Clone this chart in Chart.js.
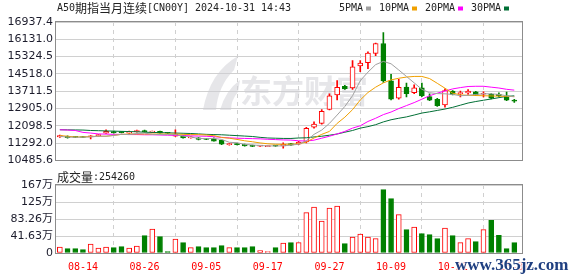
<!DOCTYPE html>
<html lang="zh-CN">
<head>
<meta charset="UTF-8">
<title>A50期指当月连续</title>
<script src="https://cdn.jsdelivr.net/npm/chart.js"></script>
<style>
  body { margin: 0; background: #fff; }
  #wrap { position: relative; width: 578px; height: 276px; }
  .pane { position: absolute; left: 0; width: 578px; }
</style>
</head>
<body>

<div id="wrap">
  <div class="pane" style="top:0;height:170px"><canvas id="kChart"></canvas></div>
  <div class="pane" style="top:170px;height:106px"><canvas id="volChart"></canvas></div>
</div>

<script>
    // trading days, 08-09 .. 10-31
    var dates = [
        '08-09', '08-12', '08-13', '08-14', '08-15', '08-16', '08-19', '08-20', '08-21', '08-22',
        '08-23', '08-26', '08-27', '08-28', '08-29', '08-30', '09-02', '09-03', '09-04', '09-05',
        '09-06', '09-09', '09-10', '09-11', '09-12', '09-13', '09-16', '09-17', '09-18', '09-19',
        '09-20', '09-23', '09-24', '09-25', '09-26', '09-27', '09-30', '10-01', '10-02', '10-03',
        '10-04', '10-07', '10-08', '10-09', '10-10', '10-11', '10-14', '10-15', '10-16', '10-17',
        '10-18', '10-21', '10-22', '10-23', '10-24', '10-25', '10-28', '10-29', '10-30', '10-31'
    ];
    var dateLabelIdx = [3, 11, 19, 27, 35, 43, 51, 59];

    var opens = [
        11580, 11612, 11580, 11590, 11580, 11640, 11760, 11830, 11810, 11760,
        11830, 11880, 11800, 11837, 11760, 11612, 11643, 11535, 11535, 11490,
        11490, 11418, 11220, 11260, 11238, 11180, 11150, 11130, 11170, 11161,
        11265, 11238, 11342, 12031, 12214, 12860, 13535, 13941, 13866, 14887,
        15036, 15473, 15937, 14193, 13382, 13909, 13639, 13864, 13459, 13337,
        13067, 13716, 13600, 13626, 13684, 13570, 13563, 13560, 13490, 13300
    ];
    var highs = [
        11670, 11630, 11600, 11610, 11640, 11700, 11914, 11850, 11830, 11850,
        11900, 11900, 11850, 11850, 11780, 11914, 11660, 11600, 11550, 11510,
        11535, 11430, 11280, 11275, 11250, 11200, 11190, 11170, 11185, 11300,
        11280, 11380, 12031, 12287, 12860, 13589, 14211, 13990, 15139, 15139,
        15545, 15960, 16446, 14495, 14270, 14090, 14013, 14090, 13594, 13380,
        13819, 13740, 13716, 13788, 13700, 13684, 13600, 13639, 13670, 13337
    ];
    var lows = [
        11560, 11520, 11540, 11540, 11490, 11620, 11740, 11760, 11770, 11740,
        11800, 11790, 11780, 11750, 11740, 11600, 11520, 11520, 11440, 11450,
        11380, 11220, 11200, 11210, 11150, 11130, 11140, 11120, 11140, 11050,
        11180, 11220, 11300, 11990, 12180, 12840, 13300, 13800, 13800, 14617,
        14765, 15365, 14121, 13300, 13340, 13445, 13600, 13460, 13270, 13000,
        12963, 13540, 13445, 13563, 13520, 13445, 13350, 13445, 13270, 13189
    ];
    var closes = [
        11640, 11540, 11560, 11555, 11620, 11690, 11837, 11770, 11780, 11800,
        11870, 11810, 11837, 11760, 11750, 11715, 11535, 11580, 11463, 11460,
        11387, 11238, 11265, 11220, 11161, 11140, 11170, 11160, 11150, 11238,
        11193, 11341, 11986, 12184, 12770, 13490, 13896, 13833, 14842, 15022,
        15486, 15937, 14193, 13337, 13896, 13594, 13864, 13490, 13292, 13040,
        13743, 13563, 13630, 13716, 13535, 13590, 13382, 13500, 13292, 13250
    ];
    var volumes = [
        147000, 106000, 106000, 82000, 220000, 122000, 147000, 130000, 155000, 122000,
        171000, 424000, 588000, 400000, 33000, 343000, 253000, 130000, 155000, 130000,
        130000, 180000, 130000, 130000, 130000, 155000, 57000, 33000, 130000, 245000,
        253000, 253000, 987000, 1126000, 783000, 1100000, 1150000, 228000, 392000, 465000,
        392000, 351000, 1550000, 1330000, 938000, 571000, 636000, 473000, 449000, 351000,
        612000, 424000, 253000, 351000, 277000, 571000, 800000, 432000, 106000, 254260
    ];

    var ma5 = [
        11612, 11567, 11567, 11567, 11580, 11612, 11612, 11650, 11700, 11688,
        11740, 11760, 11700, 11688, 11688, 11688, 11620, 11580, 11508, 11508,
        11508, 11463, 11330, 11310, 11230, 11206, 11180, 11161, 11161, 11161,
        11200, 11238, 11400, 11700, 11900, 12211, 12600, 13000, 13500, 14200,
        14600, 14950, 15100, 14990, 14700, 14400, 14100, 13800, 13640, 13600,
        13590, 13560, 13500, 13520, 13560, 13590, 13590, 13560, 13500, 13450
    ];
    var ma10 = [
        11643, 11612, 11580, 11580, 11600, 11612, 11612, 11650, 11700, 11715,
        11715, 11715, 11715, 11715, 11715, 11710, 11700, 11688, 11688, 11670,
        11643, 11553, 11520, 11463, 11400, 11355, 11300, 11260, 11238, 11238,
        11240, 11260, 11341, 11530, 11700, 11837, 12211, 12500, 12850, 13300,
        13650, 13900, 14100, 14240, 14315, 14370, 14400, 14400, 14300, 14080,
        13850, 13620, 13540, 13520, 13510, 13500, 13490, 13480, 13470, 13460
    ];
    var ma20 = [
        11914, 11900, 11880, 11792, 11760, 11720, 11710, 11700, 11700, 11690,
        11690, 11680, 11680, 11670, 11660, 11650, 11643, 11630, 11620, 11612,
        11590, 11560, 11535, 11520, 11510, 11500, 11490, 11470, 11455, 11440,
        11432, 11400, 11387, 11430, 11520, 11612, 11720, 11837, 11990, 12100,
        12300, 12450, 12620, 12740, 12900, 13040, 13180, 13337, 13500, 13620,
        13720, 13819, 13880, 13930, 13941, 13941, 13900, 13860, 13800, 13761
    ];
    var ma30 = [
        11914, 11910, 11905, 11900, 11880, 11870, 11860, 11850, 11840, 11830,
        11820, 11800, 11790, 11780, 11770, 11760, 11750, 11740, 11720, 11700,
        11690, 11680, 11660, 11640, 11620, 11600, 11560, 11530, 11520, 11510,
        11508, 11530, 11540, 11580, 11612, 11660, 11715, 11800, 11880, 11990,
        12060, 12150, 12280, 12380, 12450, 12513, 12600, 12693, 12750, 12815,
        12880, 12960, 13060, 13160, 13230, 13290, 13350, 13410, 13470, 13495
    ];

    var priceTicks = [10485.6, 11292.0, 12098.5, 12905.0, 13711.5, 14518.0, 15324.5, 16131.0, 16937.4];
    var volTicks = [0, 416300, 832600, 1248900, 1665200];

    var titleText = 'A50期指当月连续[CN00Y] 2024-10-31 14:43';
    var maNames = ['5PMA', '10PMA', '20PMA', '30PMA'];
    var maColors = ['#a0a0a0', '#f0a000', '#ff00ff', '#006f35'];

    var upColor = '#ff0000';
    var downColor = '#008000';
    var gridColor = '#d0d0d0';
    var frameColor = '#8c8c8c';
    var markColor = 'rgba(205,205,212,0.5)';

    var idx = dates.map(function (d, i) { return i; });
    function isUp(i) { return closes[i] >= opens[i]; }
    function candleColor(i) { return isUp(i) ? upColor : downColor; }

    // SimSun-like mixed text: ascii half width, CJK full width
    function drawMixed(ctx, text, x, y, color) {
        ctx.save();
        ctx.fillStyle = color;
        ctx.textBaseline = 'middle';
        ctx.textAlign = 'left';
        for (var k = 0; k < text.length; k++) {
            var ch = text[k];
            var wide = ch.charCodeAt(0) > 255;
            ctx.font = wide ? '12px "Noto Sans CJK SC"' : '10px "DejaVu Sans Mono"';
            ctx.fillText(ch, x, y);
            x += wide ? 12 : 6;
        }
        ctx.restore();
        return x;
    }

    function xScaleOpts() {
        return {
            type: 'linear',
            min: -0.5,
            max: 60,
            offset: false,
            afterBuildTicks: function (s) {
                s.ticks = dateLabelIdx.map(function (v) { return { value: v }; });
            },
            afterFit: function (s) { s.height = 0; },
            ticks: { display: false },
            grid: { color: gridColor, drawTicks: false },
            border: { display: false, dash: [4, 4] }
        };
    }

    var framePlugin = {
        id: 'frame',
        afterDraw: function (chart) {
            var a = chart.chartArea, c = chart.ctx;
            c.save();
            c.strokeStyle = frameColor;
            c.lineWidth = 1;
            c.strokeRect(Math.round(a.left) - 0.5, Math.round(a.top) - 0.5,
                Math.round(a.right - a.left) + 1, Math.round(a.bottom - a.top) + 1);
            c.restore();
        }
    };

    var kHeader = {
        id: 'kHeader',
        beforeDatasetsDraw: function (chart) {
            var c = chart.ctx;
            c.save();
            c.fillStyle = markColor;
            // logo swoosh
            c.beginPath();
            c.moveTo(203, 110);
            c.quadraticCurveTo(210, 72, 238, 56);
            c.lineTo(234, 70);
            c.quadraticCurveTo(218, 86, 216, 110);
            c.closePath();
            c.fill();
            c.beginPath();
            c.moveTo(220, 110);
            c.quadraticCurveTo(226, 90, 240, 80);
            c.lineTo(238, 92);
            c.quadraticCurveTo(231, 100, 231, 110);
            c.closePath();
            c.fill();
            c.font = 'bold 32px "Noto Sans CJK SC"';
            c.textBaseline = 'middle';
            c.fillText('东方财富', 240, 91);
            c.restore();
        },
        afterDraw: function (chart) {
            var c = chart.ctx;
            drawMixed(c, titleText, 57, 8, '#222');
            var x = 339;
            for (var k = 0; k < maNames.length; k++) {
                x = drawMixed(c, maNames[k], x, 8, '#222');
                c.fillStyle = maColors[k];
                c.fillRect(x + 3, 6.5, 5, 4);
                x += 16;
            }
        }
    };

    var kChart = new Chart(document.getElementById('kChart'), {
        type: 'bar',
        data: {
            datasets: [
                {
                    type: 'line', data: idx.map(function (i) { return { x: i, y: ma5[i] }; }),
                    borderColor: maColors[0], borderWidth: 1, pointRadius: 0, order: 0
                },
                {
                    type: 'line', data: idx.map(function (i) { return { x: i, y: ma10[i] }; }),
                    borderColor: maColors[1], borderWidth: 1, pointRadius: 0, order: 0
                },
                {
                    type: 'line', data: idx.map(function (i) { return { x: i, y: ma20[i] }; }),
                    borderColor: maColors[2], borderWidth: 1, pointRadius: 0, order: 0
                },
                {
                    type: 'line', data: idx.map(function (i) { return { x: i, y: ma30[i] }; }),
                    borderColor: maColors[3], borderWidth: 1, pointRadius: 0, order: 0
                },
                {
                    // candle bodies
                    data: idx.map(function (i) { return { x: i, y: [opens[i], closes[i]] }; }),
                    backgroundColor: idx.map(function (i) { return isUp(i) ? '#ffffff' : downColor; }),
                    borderColor: idx.map(candleColor),
                    borderWidth: 1,
                    borderSkipped: false,
                    minBarLength: 1,
                    barThickness: 5,
                    grouped: false,
                    order: 1
                },
                {
                    // wicks
                    data: idx.map(function (i) { return { x: i, y: [lows[i], highs[i]] }; }),
                    backgroundColor: idx.map(candleColor),
                    borderWidth: 0,
                    barThickness: 1,
                    grouped: false,
                    order: 2
                }
            ]
        },
        options: {
            responsive: true,
            maintainAspectRatio: false,
            animation: false,
            layout: { padding: { top: 22, right: 56, bottom: 5, left: 0 } },
            plugins: { legend: { display: false }, tooltip: { enabled: false } },
            scales: {
                x: xScaleOpts(),
                y: {
                    min: priceTicks[0],
                    max: priceTicks[priceTicks.length - 1],
                    afterBuildTicks: function (s) {
                        s.ticks = priceTicks.map(function (v) { return { value: v }; });
                    },
                    afterFit: function (s) { s.width = 56; },
                    ticks: {
                        padding: 3,
                        color: '#1c1c2c',
                        font: { family: 'DejaVu Sans', size: 11 },
                        callback: function (v) { return Number(v).toFixed(1); }
                    },
                    grid: { color: gridColor, drawTicks: false },
                    border: { display: false }
                }
            }
        },
        plugins: [kHeader, framePlugin]
    });

    function volLabel(v) {
        if (v === 0) return '0';
        var w = v / 10000;
        return (w >= 100 ? Math.round(w) : w.toFixed(2)) + '万';
    }

    var volHeader = {
        id: 'volHeader',
        afterDraw: function (chart) {
            var c = chart.ctx;
            drawMixed(c, '成交量:' + volumes[volumes.length - 1], 57, 7, '#222');
            var xs = chart.scales.x;
            for (var k = 0; k < dateLabelIdx.length; k++) {
                var px = xs.getPixelForValue(dateLabelIdx[k]);
                drawMixed(c, dates[dateLabelIdx[k]], px - 15, 97, upColor);
            }
            c.save();
            c.font = 'bold 17px "Liberation Serif"';
            c.textBaseline = 'alphabetic';
            c.lineWidth = 3;
            c.strokeStyle = 'rgba(255,255,255,0.8)';
            c.strokeText('www.365jz.com', 455, 100);
            c.fillStyle = '#1f3f80';
            c.fillText('www.365jz.com', 455, 100);
            c.restore();
        }
    };

    var volChart = new Chart(document.getElementById('volChart'), {
        type: 'bar',
        data: {
            datasets: [{
                data: idx.map(function (i) { return { x: i, y: volumes[i] }; }),
                backgroundColor: idx.map(function (i) { return isUp(i) ? '#ffffff' : downColor; }),
                borderColor: idx.map(candleColor),
                borderWidth: 1,
                borderSkipped: false,
                barThickness: 5,
                grouped: false
            }]
        },
        options: {
            responsive: true,
            maintainAspectRatio: false,
            animation: false,
            layout: { padding: { top: 15, right: 56, bottom: 23, left: 0 } },
            plugins: { legend: { display: false }, tooltip: { enabled: false } },
            scales: {
                x: xScaleOpts(),
                y: {
                    min: 0,
                    max: volTicks[volTicks.length - 1],
                    afterBuildTicks: function (s) {
                        s.ticks = volTicks.map(function (v) { return { value: v }; });
                    },
                    afterFit: function (s) { s.width = 56; },
                    ticks: {
                        padding: 3,
                        color: '#1c1c2c',
                        font: { family: 'DejaVu Sans', size: 11 },
                        callback: function (v) { return volLabel(v); }
                    },
                    grid: { color: gridColor, drawTicks: false },
                    border: { display: false }
                }
            }
        },
        plugins: [volHeader, framePlugin]
    });
</script>

</body>
</html>
